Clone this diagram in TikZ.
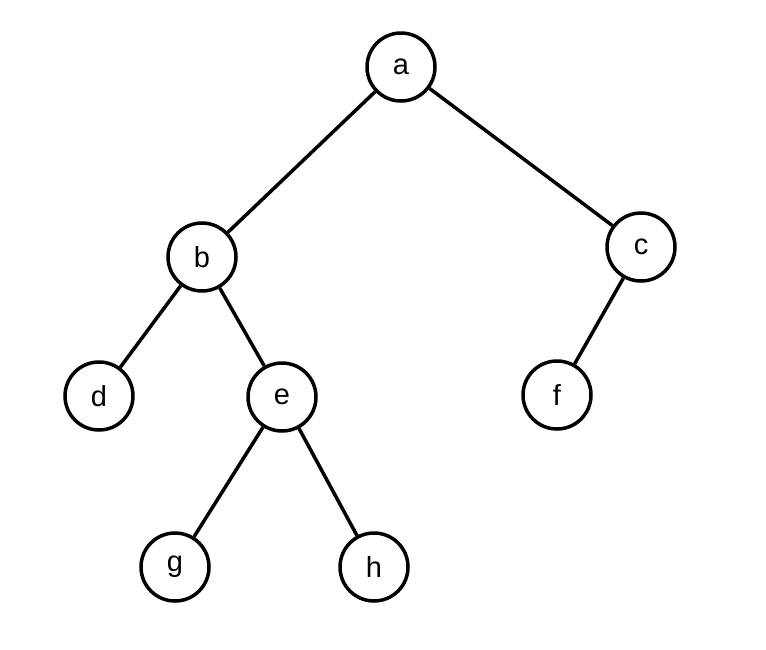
\documentclass[tikz,border=0pt]{standalone}
\usepackage{fontspec}
\setmainfont{Liberation Sans}
\begin{document}
\begin{tikzpicture}[x=1pt,y=-1pt,
  vnode/.style={circle,draw,line width=3.5pt,minimum size=68pt,inner sep=0pt,font=\fontsize{29}{30}\selectfont},
  edge/.style={line width=3.5pt}]
\useasboundingbox (0,0) rectangle (766,649);
\node[vnode] (a) at (401,67) {a};
\node[vnode] (b) at (202,257) {b};
\node[vnode] (c) at (641,247) {c};
\node[vnode] (d) at (99,396) {d};
\node[vnode] (e) at (282,397) {e};
\node[vnode] (f) at (557,395) {f};
\node[vnode] (g) at (175,567) {g};
\node[vnode] (h) at (374,567) {h};
\draw[edge] (a) -- (b);
\draw[edge] (a) -- (c);
\draw[edge] (b) -- (d);
\draw[edge] (b) -- (e);
\draw[edge] (c) -- (f);
\draw[edge] (e) -- (g);
\draw[edge] (e) -- (h);
\end{tikzpicture}
\end{document}
